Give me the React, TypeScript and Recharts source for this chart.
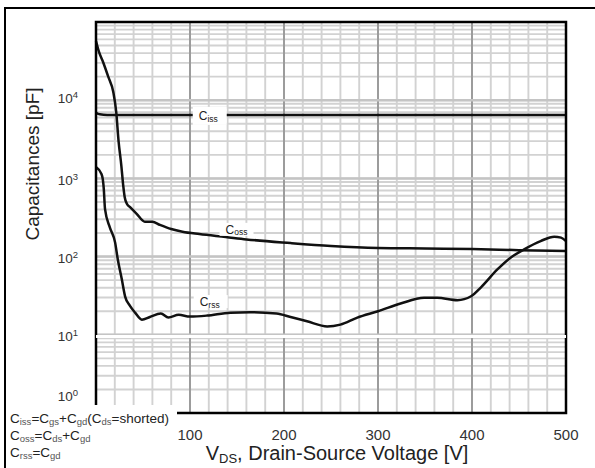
import React from 'react';
import {
  LineChart,
  Line,
  XAxis,
  YAxis,
  CartesianGrid,
  ReferenceLine,
  ReferenceArea,
  ReferenceDot,
} from 'recharts';

const FONT = '"Liberation Sans", Arial, Helvetica, sans-serif';

// ---- X axis (V_DS, volts)
const xGridTicks = [0, 20, 40, 60, 80, 100, 120, 140, 160, 180, 200, 220, 240, 260, 280, 300, 320, 340, 360, 380, 400, 420, 440, 460, 480, 500];
const xMajorLines = [100, 200, 300, 400];
const xLabelTicks = [100, 200, 300, 400, 500];

// ---- Y axis (capacitance, pF, log)
const yDecades = [1, 10, 100, 1000, 10000, 100000];
const yMultipliers = [1, 2, 3, 4, 5, 6, 7, 8, 9];
const yGridTicks = yDecades
  .slice(0, -1)
  .flatMap((d) => yMultipliers.map((m) => m * d))
  .concat([100000]);
const yDecadeLines = [10, 100, 1000, 10000];
const yGapLine = 9.5;

// ---- Ciss
const cissV = [0, 4, 12, 500];
const cissC = [6900, 6600, 6470, 6470];

// ---- Coss
const cossV = [0, 3, 7.5, 13, 18.4, 21.5, 24, 27, 29, 30.5, 33, 36, 43, 52, 60, 68, 80, 92, 110, 138, 160, 207, 250, 300, 350, 400, 450, 500];
const cossC = [57000, 42000, 30800, 20000, 12700, 7070, 3000, 1440, 800, 578, 470, 431, 355, 279, 279, 254, 225, 208, 194, 178, 166, 149, 137, 129, 127, 125, 121, 118];

// ---- Crss
const crssV = [0, 5.8, 7.2, 8.3, 9.6, 14.7, 20.3, 23.2, 27.5, 31, 36, 41.6, 48.8, 57.3, 69, 77, 88, 100, 118, 143, 164, 192, 207, 224.5, 246, 260, 278, 300, 324, 349, 363, 384.5, 399, 409.3, 427, 441, 455.5, 473, 487.5, 494.7, 500];
const crssC = [1400, 1136, 980, 729, 404, 237, 152, 92, 51, 30.8, 23.6, 19.2, 15.6, 16.9, 18.7, 16.6, 18, 17.1, 17.6, 19.2, 19.4, 18.7, 16.9, 14.9, 12.8, 13.5, 16.6, 20, 25.1, 29.7, 29.7, 27.7, 31.1, 40.2, 68.5, 96.8, 124, 158, 180, 175, 158];

// ---- curve tags
const tagSubs = ['iss', 'oss', 'rss'];
const tagV = [121, 149.5, 122];
const tagC = [6300, 223, 26.6];

// ---- legend note
const noteLines: [string, boolean][][] = [
  [['C', false], ['iss', true], ['=C', false], ['gs', true], ['+C', false], ['gd', true], ['(C', false], ['ds', true], ['=shorted)', false]],
  [['C', false], ['oss', true], ['=C', false], ['ds', true], ['+C', false], ['gd', true]],
  [['C', false], ['rss', true], ['=C', false], ['gd', true]],
];

const toData = (vs: number[], cs: number[]) => vs.map((v, i) => ({ v, c: cs[i] }));
const cissData = toData(cissV, cissC);
const cossData = toData(cossV, cossC);
const crssData = toData(crssV, crssC);

const XTick = (props: any) => {
  const { x, y, payload } = props;
  if (!xLabelTicks.includes(payload.value)) return <g />;
  return (
    <text x={x} y={y} dy={27} textAnchor="middle" fontSize={15} fill="#333" fontFamily={FONT}>
      {payload.value}
    </text>
  );
};

const YTick = (props: any) => {
  const { x, y, payload } = props;
  const v = payload.value;
  if (!yDecades.includes(v) || v === 100000) return <g />;
  const exp = Math.round(Math.log10(v));
  const dy = v === 1 ? -12 : v === 10000 ? 2.5 : 6.5;
  return (
    <text x={x - 18} y={y + dy} textAnchor="end" fontSize={13.5} fill="#333" fontFamily={FONT}>
      <tspan>10</tspan>
      <tspan dy={-5} fontSize={9.5}>{exp}</tspan>
    </text>
  );
};

const XTitle = (props: any) => {
  const vb = props.viewBox || { x: 96, y: 413, width: 470, height: 55 };
  const cx = vb.x + vb.width / 2 + 6;
  return (
    <text x={cx} y={vb.y + 47} textAnchor="middle" fontSize={20} fill="#222" fontFamily={FONT}>
      <tspan>V</tspan>
      <tspan fontSize={13} dy={3}>DS</tspan>
      <tspan dy={-3}>, Drain-Source Voltage [V]</tspan>
    </text>
  );
};

const YTitle = () => (
  <text transform="translate(38.5,164) rotate(-90)" x={0} y={0} textAnchor="middle" fontSize={19} fill="#222" fontFamily={FONT}>
    Capacitances [pF]
  </text>
);

const CurveTag = ({ cx, cy, sub }: { cx: number; cy: number; sub: string }) => {
  const w = 34;
  const h = sub === 'iss' ? 18 : 13;
  return (
    <g>
      <rect x={cx - w / 2} y={cy - h / 2} width={w} height={h} fill="#fff" />
      <text x={cx - 11} y={cy + 4.5} fontSize={12} fill="#222" fontFamily={FONT}>
        <tspan>C</tspan>
        <tspan fontSize={8.5} dy={1.5}>{sub}</tspan>
      </text>
    </g>
  );
};

export default function App() {
  return (
    <div
      style={{
        position: 'absolute',
        left: 0,
        top: 0,
        width: 595,
        height: 468,
        overflow: 'hidden',
        background: '#fff',
      }}
    >
      <div
        style={{
          position: 'absolute',
          left: 4,
          top: 7,
          width: 800,
          height: 800,
          borderTop: '2px solid #000',
          borderLeft: '2px solid #000',
        }}
      />
      <div style={{ position: 'absolute', left: 0, top: 0 }}>
        <LineChart width={595} height={468} margin={{ top: 22, right: 29, bottom: 0, left: 0 }}>
          <CartesianGrid stroke="#d2d2d2" strokeWidth={1.9} />
          <XAxis
            dataKey="v"
            type="number"
            domain={[0, 500]}
            ticks={xGridTicks}
            interval={0}
            tickLine={false}
            axisLine={false}
            tickSize={0}
            tickMargin={0}
            height={55}
            tick={<XTick />}
            label={<XTitle />}
          />
          <YAxis
            dataKey="c"
            type="number"
            scale="log"
            domain={[1, 100000]}
            allowDataOverflow
            ticks={yGridTicks}
            interval={0}
            tickLine={false}
            axisLine={false}
            tickSize={0}
            tickMargin={0}
            width={96}
            tick={<YTick />}
            label={<YTitle />}
          />
          {xMajorLines.map((v) => (
            <ReferenceLine key={'vx' + v} x={v} stroke="#9c9c9c" strokeWidth={2} zIndex={-90} />
          ))}
          {yDecadeLines.map((c) => (
            <ReferenceLine key={'hy' + c} y={c} stroke="#c4c4c4" strokeWidth={2.5} zIndex={-90} />
          ))}
          <Line data={cissData} dataKey="c" type="monotone" stroke="#111" strokeWidth={2.5} dot={false} isAnimationActive={false} />
          <Line data={cossData} dataKey="c" type="monotone" stroke="#111" strokeWidth={2.5} dot={false} isAnimationActive={false} />
          <Line data={crssData} dataKey="c" type="monotone" stroke="#111" strokeWidth={2.5} dot={false} isAnimationActive={false} />
          <ReferenceArea x1={0} x2={500} y1={1} y2={100000} fill="none" fillOpacity={0} stroke="#000" strokeWidth={2.5} zIndex={550} />
          <ReferenceLine y={yGapLine} stroke="#fff" strokeWidth={3} zIndex={600} />
          {tagSubs.map((s, i) => (
            <ReferenceDot
              key={'tag' + s}
              x={tagV[i]}
              y={tagC[i]}
              r={0}
              zIndex={700}
              shape={(p: any) => <CurveTag cx={p.cx} cy={p.cy} sub={s} />}
            />
          ))}
        </LineChart>
      </div>
      <div
        style={{
          position: 'absolute',
          left: 6,
          top: 405,
          width: 171,
          height: 63,
          background: '#fff',
          fontFamily: FONT,
          color: '#222',
        }}
      >
        {noteLines.map((parts, i) => (
          <div
            key={i}
            style={{
              position: 'absolute',
              left: 4,
              top: 7 + i * 17,
              fontSize: 13.5,
              lineHeight: '13px',
              whiteSpace: 'nowrap',
            }}
          >
            {parts.map(([t, sub], j) =>
              sub ? (
                <span key={j} style={{ fontSize: 9.5, verticalAlign: '-2px', color: '#555' }}>
                  {t}
                </span>
              ) : (
                <span key={j}>{t}</span>
              )
            )}
          </div>
        ))}
      </div>
    </div>
  );
}
